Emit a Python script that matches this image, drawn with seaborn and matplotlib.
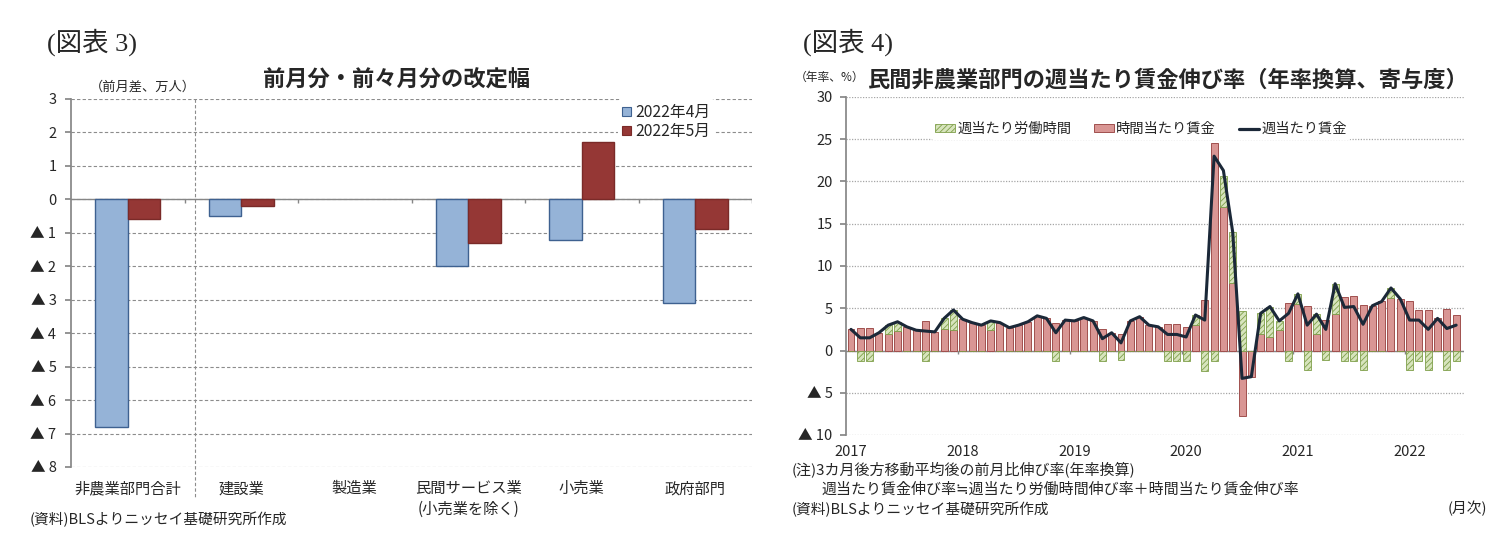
import numpy as np
import pandas as pd
import seaborn as sns
import matplotlib.pyplot as plt
from matplotlib.patches import Patch
from matplotlib.lines import Line2D
from matplotlib.ticker import FuncFormatter

############################## data: 図表3 ##############################
rev_sectors = ["非農業部門合計", "建設業", "製造業", "民間サービス業\n(小売業を除く)", "小売業", "政府部門"]
rev_months = ["2022年4月", "2022年5月"]
rev_apr = [-6.8, -0.5, 0.0, -2.0, -1.2, -3.1]
rev_may = [-0.6, -0.2, 0.0, -1.3, 1.7, -0.9]

############################## data: 図表4 ##############################
# monthly, Jan 2017 - Jun 2022, annualised %
year_labels = ["2017", "2018", "2019", "2020", "2021", "2022"]
hourly_wage = [2.5, 2.7, 2.7, 2.1, 2.0, 2.3, 2.8, 2.4, 3.5, 2.2, 2.6, 2.4,
               3.7, 3.3, 3.0, 2.4, 3.3, 2.7, 3.0, 3.4, 4.1, 3.8, 3.3, 3.6,
               3.5, 3.9, 3.5, 2.6, 2.1, 2.0, 3.5, 4.0, 3.0, 2.8, 3.1, 3.1,
               2.8, 3.0, 6.0, 24.5, 17.0, 8.0, -7.8, -3.1, 2.0, 1.6, 2.4, 5.6,
               5.5, 5.3, 1.9, 3.6, 4.3, 6.3, 6.4, 5.4, 5.3, 5.8, 6.2, 6.1,
               5.9, 4.8, 4.8, 3.8, 4.9, 4.2]
weekly_hours = [0, -1.2, -1.2, 0, 1.0, 1.1, 0, 0, -1.2, 0, 1.2, 2.4,
                0, 0, 0, 1.1, 0, 0, 0, 0, 0, 0, -1.2, 0,
                0, 0, 0, -1.2, 0, -1.1, 0, 0, 0, 0, -1.2, -1.2,
                -1.2, 1.2, -2.4, -1.2, 3.6, 6.0, 4.7, 0, 2.4, 3.6, 1.1, -1.2,
                1.2, -2.3, 2.4, -1.1, 3.6, -1.2, -1.2, -2.3, 0, 0, 1.2, 0,
                -2.3, -1.2, -2.3, 0, -2.3, -1.2]
weekly_wage = [2.5, 1.5, 1.5, 2.1, 3.0, 3.4, 2.8, 2.4, 2.3, 2.2, 3.8, 4.8,
               3.7, 3.3, 3.0, 3.5, 3.3, 2.7, 3.0, 3.4, 4.1, 3.8, 2.1, 3.6,
               3.5, 3.9, 3.5, 1.4, 2.1, 0.9, 3.5, 4.0, 3.0, 2.8, 1.9, 1.9,
               1.6, 4.2, 3.6, 23.0, 21.3, 14.0, -3.3, -3.1, 4.4, 5.2, 3.5, 4.4,
               6.7, 3.0, 4.3, 2.5, 7.9, 5.1, 5.2, 3.1, 5.3, 5.8, 7.4, 6.1,
               3.6, 3.6, 2.5, 3.8, 2.6, 3.0]

############################## style ##############################
sns.set_theme(style="white")
plt.rcParams['font.family'] = ['Noto Sans CJK JP', 'DejaVu Sans']
plt.rcParams['hatch.linewidth'] = 0.6

W, H = 1509, 554
def fx(px):
    return px / W
def fy(py):
    return 1 - py / H

AXIS_GREY = '#868686'
BLUE, BLUE_EDGE = '#95B3D7', '#3E6190'
RED, RED_EDGE = '#953735', '#7A2A28'
WAGE_RED, WAGE_EDGE = '#D99694', '#A0504E'
HRS_GREEN, HRS_EDGE = '#D7E4BD', '#7F9F4A'
LINE_COL = '#1B2838'

def tri_fmt(v, pos):
    v = int(round(v))
    return f"▲ {abs(v)}" if v < 0 else f"{v}"

fig = plt.figure(figsize=(W / 100, H / 100), dpi=100)

############################## 図表3 ##############################
ax1 = fig.add_axes([fx(71), fy(467), fx(752) - fx(71), fy(99) - fy(467)])
df_rev = pd.DataFrame({
    'sector': rev_sectors * 2,
    'value': rev_apr + rev_may,
    'month': [rev_months[0]] * len(rev_apr) + [rev_months[1]] * len(rev_may),
})
sns.barplot(data=df_rev, x='sector', y='value', hue='month', palette=[BLUE, RED],
            saturation=1, width=0.576, errorbar=None, legend=False, linewidth=1, ax=ax1)
for cont, ec in zip(ax1.containers, [BLUE_EDGE, RED_EDGE]):
    for bar in cont:
        bar.set_edgecolor(ec)
        bar.set_zorder(3)
        if bar.get_height() == 0:
            bar.set_visible(False)

ax1.set_ylim(-8, 3)
ax1.set_xlim(-0.5, 5.5)
ax1.set_yticks(range(-8, 4))
ax1.yaxis.set_major_formatter(FuncFormatter(tri_fmt))
ax1.yaxis.grid(True, linestyle=(0, (3, 2)), color='#8C8C8C', linewidth=0.8)
ax1.set_axisbelow(True)
ax1.axhline(0, color=AXIS_GREY, linewidth=1, zorder=2)
ax1.vlines(np.arange(0.5, 6, 1), -0.12, 0, color=AXIS_GREY, linewidth=1, zorder=2)
ax1.plot([0.5925, 0.5925], [3, -8.93], linestyle=(0, (3, 2)), color='#8C8C8C',
         linewidth=0.8, clip_on=False, zorder=1)
for s in ['top', 'right', 'bottom']:
    ax1.spines[s].set_visible(False)
ax1.spines['left'].set_color(AXIS_GREY)
ax1.tick_params(axis='y', left=True, length=4, color=AXIS_GREY, pad=6.5, labelsize=10.5)
ax1.tick_params(axis='x', length=0, pad=9.5, labelsize=11)
ax1.set_xticks(range(len(rev_sectors)))
ax1.set_xticklabels(rev_sectors, linespacing=1.3, va='top')
ax1.set_xlabel('')
ax1.set_ylabel('')

ax1.legend(handles=[Patch(facecolor=BLUE, edgecolor=BLUE_EDGE, linewidth=0.8),
                    Patch(facecolor=RED, edgecolor=RED_EDGE, linewidth=0.8)],
           labels=rev_months, loc='center', bbox_to_anchor=(0.874, 0.9375),
           fontsize=11.3, handlelength=0.55, handleheight=0.55, handletextpad=0.25,
           labelspacing=0.15, borderpad=0.3, frameon=True, framealpha=1,
           facecolor='white', edgecolor='none')

fig.text(fx(47), fy(42), "(図表 3)", fontsize=19, va='center', ha='left',
         family=['Liberation Serif', 'Noto Sans CJK JP'])
fig.text(fx(397), fy(80), "前月分・前々月分の改定幅", fontsize=16, weight='bold',
         ha='center', va='center')
fig.text(fx(90), fy(87), "（前月差、万人）", fontsize=9.5, ha='left', va='center')
fig.text(fx(30), fy(519), "(資料)BLSよりニッセイ基礎研究所作成", fontsize=10.6,
         ha='left', va='center')

############################## 図表4 ##############################
ax2 = fig.add_axes([fx(846.35), fy(435), fx(1463.6) - fx(846.35), fy(97) - fy(435)])
month_idx = np.arange(len(hourly_wage))
wage = np.array(hourly_wage)
hours = np.array(weekly_hours)

sns.barplot(x=month_idx, y=wage, color=WAGE_RED, saturation=1, width=0.75,
            errorbar=None, edgecolor=WAGE_EDGE, linewidth=0.7, ax=ax2, zorder=3)
hrs_bottom = np.where((hours > 0) & (wage > 0), wage, 0)
ax2.bar(month_idx, hours, bottom=hrs_bottom, width=0.75, color=HRS_GREEN,
        edgecolor=HRS_EDGE, hatch='//////', linewidth=0.6, zorder=3)
sns.lineplot(x=month_idx, y=weekly_wage, color=LINE_COL, linewidth=2.2, ax=ax2, zorder=5)

ax2.set_xlim(-0.5, 65.8)
ax2.set_ylim(-10, 30)
ax2.set_yticks(range(-10, 31, 5))
ax2.yaxis.set_major_formatter(FuncFormatter(tri_fmt))
ax2.set_xticks(month_idx[::12])
ax2.set_xticklabels(year_labels)
ax2.yaxis.grid(True, linestyle=(0, (1, 1.2)), color='#A6A6A6', linewidth=0.9)
ax2.xaxis.grid(False)
ax2.set_axisbelow(True)
ax2.axhline(0, color=AXIS_GREY, linewidth=1, zorder=2)
ax2.vlines(np.arange(11.5, 66, 12), -0.47, 0, color=AXIS_GREY, linewidth=1, zorder=2)
for s in ['top', 'right', 'bottom']:
    ax2.spines[s].set_visible(False)
ax2.spines['left'].set_color(AXIS_GREY)
ax2.tick_params(axis='y', left=True, length=4, color=AXIS_GREY, pad=5.8, labelsize=10.5)
ax2.tick_params(axis='x', length=0, pad=7, labelsize=10.5)
ax2.set_xlabel('')
ax2.set_ylabel('')

handles2 = [Patch(facecolor=HRS_GREEN, edgecolor=HRS_EDGE, hatch='//////', linewidth=0.6),
            Patch(facecolor=WAGE_RED, edgecolor=WAGE_EDGE, linewidth=0.7),
            Line2D([0], [0], color=LINE_COL, linewidth=2.3)]
ax2.legend(handles=handles2, labels=["週当たり労働時間", "時間当たり賃金", "週当たり賃金"],
           loc='center', bbox_to_anchor=(0.477, 0.905), ncol=3, fontsize=10.3,
           handlelength=1.4, handleheight=0.45, handletextpad=0.15, columnspacing=1.6,
           borderpad=0.3, frameon=True, framealpha=1, facecolor='white', edgecolor='none')

fig.text(fx(803), fy(42), "(図表 4)", fontsize=19, va='center', ha='left',
         family=['Liberation Serif', 'Noto Sans CJK JP'])
fig.text(fx(1168), fy(80), "民間非農業部門の週当たり賃金伸び率（年率換算、寄与度）",
         fontsize=16, weight='bold', ha='center', va='center')
fig.text(fx(795), fy(77), "（年率、%）", fontsize=8.5, ha='left', va='center')
fig.text(fx(792), fy(469), "(注)3カ月後方移動平均後の前月比伸び率(年率換算)",
         fontsize=10.8, ha='left', va='center')
fig.text(fx(822), fy(490), "週当たり賃金伸び率≒週当たり労働時間伸び率＋時間当たり賃金伸び率",
         fontsize=10.8, ha='left', va='center')
fig.text(fx(792), fy(509), "(資料)BLSよりニッセイ基礎研究所作成", fontsize=10.6,
         ha='left', va='center')
fig.text(fx(1487), fy(508), "(月次)", fontsize=10.6, ha='right', va='center')

fig.savefig('out.png', dpi=100)
